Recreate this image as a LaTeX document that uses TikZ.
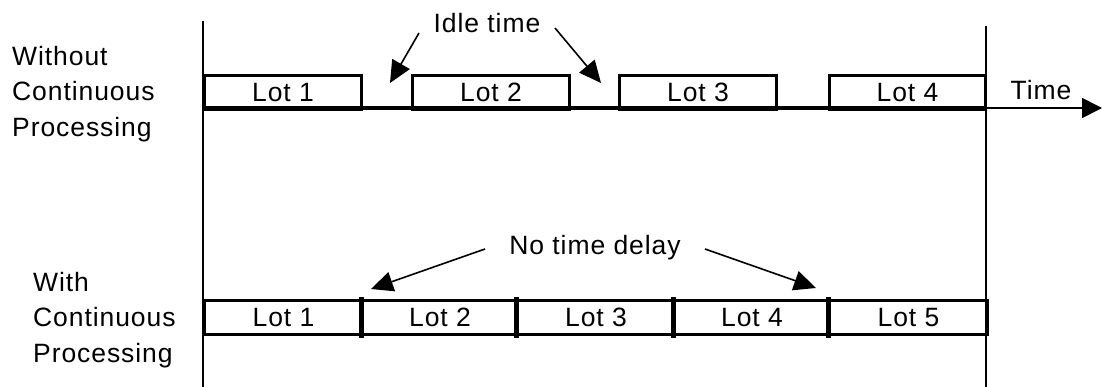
\documentclass[tikz,border=0pt]{standalone}
\usepackage{fontspec}
\setmainfont{Liberation Sans}[LetterSpace=3.5]
\usetikzlibrary{arrows.meta}
\begin{document}
\begin{tikzpicture}[x=1pt,y=-1pt,
  every node/.style={font=\fontsize{26.5}{35.5}\selectfont},
  lotbox/.style={draw,line width=3pt,inner sep=0pt,minimum height=34pt,anchor=north west},
  lbl/.style={align=left,anchor=north west,inner sep=0pt},
  callout/.style={line width=1.6pt,-{Triangle[length=22pt,width=20pt]}},
  axis/.style={line width=1.6pt}]
\useasboundingbox (0,0) rectangle (1102,387);
% vertical bounds
\coordinate (l0) at (203,21);
\coordinate (l1) at (203,387);
\coordinate (r0) at (986,26);
\coordinate (r1) at (986,387);
\draw[axis] (l0) -- (l1);
\draw[axis] (r0) -- (r1);
% top row
\coordinate (b0) at (203,108);
\coordinate (b1) at (986,108);
\coordinate (tend) at (1102,108);
\draw[line width=3.5pt] (b0) -- (b1);
\node[lotbox,minimum width=157pt] (a1) at (203,74) {Lot 1};
\node[lotbox,minimum width=157pt] (a2) at (411,74) {Lot 2};
\node[lotbox,minimum width=157pt] (a3) at (618,74) {Lot 3};
\node[lotbox,minimum width=156pt] (a4) at (828,74) {Lot 4};
\draw[line width=1.8pt,-{Triangle[length=20pt,width=20pt]}] (b1) -- (tend);
\node (time) at (1041,90) {Time};
% idle time
\node (idle) at (487,23) {Idle time};
\coordinate (i1s) at (419,33);
\coordinate (i1e) at (390,83);
\coordinate (i2s) at (555,28);
\coordinate (i2e) at (601,83);
\draw[callout] (i1s) -- (i1e);
\draw[callout] (i2s) -- (i2e);
% bottom row
\node[lotbox,minimum width=158pt] (c1) at (203,299) {Lot 1};
\node[lotbox,minimum width=155pt] (c2) at (361,299) {Lot 2};
\node[lotbox,minimum width=157pt] (c3) at (516,299) {Lot 3};
\node[lotbox,minimum width=155pt] (c4) at (673,299) {Lot 4};
\node[lotbox,minimum width=158pt] (c5) at (828,299) {Lot 5};
\foreach \n in {c2,c3,c4,c5}{
  \draw[line width=5pt] ([yshift=2pt]\n.north west) -- ([yshift=-2pt]\n.south west);
}
\node (nodelay) at (595,248) {No time delay};
\coordinate (n1s) at (485,249);
\coordinate (n1e) at (371,289);
\coordinate (n2s) at (705,249);
\coordinate (n2e) at (816,288);
\draw[callout] (n1s) -- (n1e);
\draw[callout] (n2s) -- (n2e);
% left labels
\node[lbl] (lab1) at (12,46) {Without\\Continuous\\Processing};
\node[lbl] (lab2) at (33,272) {With\\Continuous\\Processing};
\end{tikzpicture}
\end{document}
